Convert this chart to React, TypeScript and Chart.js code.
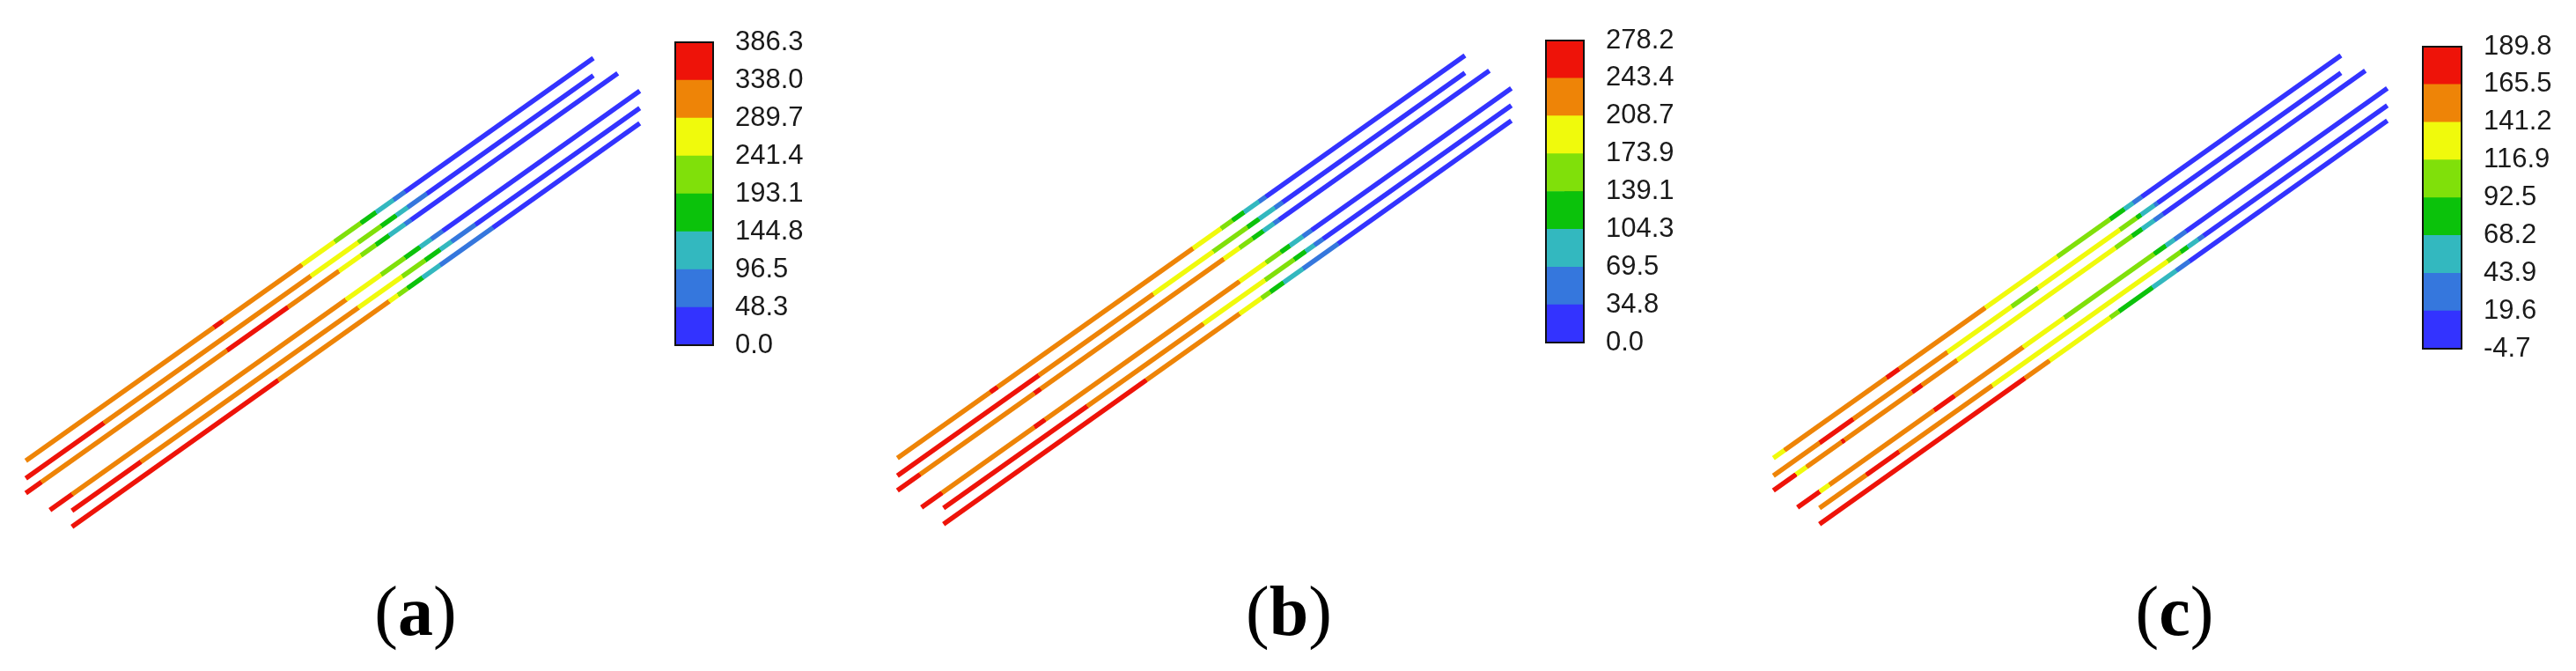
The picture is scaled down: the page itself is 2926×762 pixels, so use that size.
import React, { useEffect, useRef } from "react";
import { Chart, registerables } from "chart.js";

Chart.register(...registerables);

// ---------- DATA ----------
// Contour level colours, low -> high
const levelColors = [
  "#3333FF",
  "#3577DD",
  "#33B8BF",
  "#0BC20B",
  "#80E00A",
  "#F0FA0C",
  "#EE8407",
  "#EE1309",
];

// Colour-bar levels for each panel
const levelValuesA = [0.0, 48.3, 96.5, 144.8, 193.1, 241.4, 289.7, 338.0, 386.3];
const levelLabelsA = ["0.0", "48.3", "96.5", "144.8", "193.1", "241.4", "289.7", "338.0", "386.3"];
const levelValuesB = [0.0, 34.8, 69.5, 104.3, 139.1, 173.9, 208.7, 243.4, 278.2];
const levelLabelsB = ["0.0", "34.8", "69.5", "104.3", "139.1", "173.9", "208.7", "243.4", "278.2"];
const levelValuesC = [-4.7, 19.6, 43.9, 68.2, 92.5, 116.9, 141.2, 165.5, 189.8];
const levelLabelsC = ["-4.7", "19.6", "43.9", "68.2", "92.5", "116.9", "141.2", "165.5", "189.8"];

// Geometry of the six strands (same in every panel): start and end points
const strandStarts: [number, number][] = [
  [29.3, 523.3],
  [29.3, 543.3],
  [29.3, 560.0],
  [56.7, 579.3],
  [81.7, 580.0],
  [81.7, 598.3],
];
const strandEnds: [number, number][] = [
  [674.0, 66.0],
  [674.0, 85.7],
  [701.7, 83.3],
  [726.7, 103.3],
  [726.7, 122.7],
  [726.7, 140.0],
];

// Panel (a): x positions where the contour band changes, and the band index of each piece
const breaksA = [
  [243, 253, 343, 380, 410, 427, 447, 460],
  [118, 353, 407, 433, 450, 463, 485],
  [47, 258, 327, 385, 410, 427, 442, 460, 467],
  [82, 393, 433, 460, 477, 490, 503],
  [160, 407, 457, 483, 500, 513, 540],
  [316, 442, 452, 463, 480, 500, 560],
];
const bandsA = [
  [6, 7, 6, 5, 4, 3, 2, 1, 0],
  [7, 6, 5, 4, 3, 2, 1, 0],
  [7, 6, 7, 6, 5, 4, 3, 2, 1, 0],
  [7, 6, 5, 4, 3, 2, 1, 0],
  [7, 6, 5, 4, 3, 2, 1, 0],
  [7, 6, 5, 4, 3, 2, 1, 0],
];

// Panel (b)
const breaksB = [
  [135, 143, 365, 397, 410, 423, 440, 448],
  [190, 320, 388, 427, 440, 458, 467],
  [55, 185, 192, 400, 418, 433, 445, 457, 463],
  [80, 185, 197, 418, 448, 465, 475, 490, 500],
  [245, 377, 447, 480, 493, 503, 513],
  [312, 418, 443, 453, 468, 490, 530],
];
const bandsB = [
  [6, 7, 6, 5, 4, 3, 2, 1, 0],
  [7, 6, 5, 4, 3, 2, 1, 0],
  [7, 6, 7, 6, 5, 4, 3, 2, 1, 0],
  [7, 6, 7, 6, 5, 4, 3, 2, 1, 0],
  [7, 6, 5, 4, 3, 2, 1, 0],
  [7, 6, 5, 4, 3, 2, 1, 0],
];

// Panel (c)
const breaksC = [
  [42, 158, 172, 270, 352, 412, 428, 438, 448],
  [82, 120, 227, 300, 330, 423, 442, 447, 462, 466],
  [55, 67, 107, 110, 187, 198, 238, 418, 437, 448, 462, 472],
  [82, 93, 212, 235, 313, 360, 462, 475, 485, 498],
  [135, 172, 278, 477, 492, 500, 512, 518],
  [315, 343, 412, 422, 460, 487, 502],
];
const bandsC = [
  [5, 6, 7, 6, 5, 4, 3, 2, 1, 0],
  [6, 7, 6, 5, 4, 5, 4, 3, 2, 1, 0],
  [7, 5, 6, 7, 6, 7, 6, 5, 4, 3, 2, 1, 0],
  [7, 5, 6, 7, 6, 5, 4, 3, 2, 1, 0],
  [6, 7, 6, 5, 4, 3, 2, 1, 0],
  [7, 6, 5, 4, 3, 2, 1, 0],
];

const panelLabels = ["a", "b", "c"];

// ---------- LAYOUT ----------
const FIELD_W = 760;
const FIELD_H = 640;

type PanelSpec = {
  fieldLeft: number;
  fieldTop: number;
  barLeft: number;
  barTop: number;
  barW: number;
  barH: number;
  labelX: number;
  breaks: number[][];
  bands: number[][];
  values: number[];
  labels: string[];
  name: string;
};

const panels: PanelSpec[] = [
  { fieldLeft: 0, fieldTop: 0, barLeft: 767, barTop: 48, barW: 43, barH: 344, labelX: 472, breaks: breaksA, bands: bandsA, values: levelValuesA, labels: levelLabelsA, name: panelLabels[0] },
  { fieldLeft: 990, fieldTop: -3, barLeft: 1756, barTop: 46, barW: 43, barH: 343, labelX: 1464, breaks: breaksB, bands: bandsB, values: levelValuesB, labels: levelLabelsB, name: panelLabels[1] },
  { fieldLeft: 1985, fieldTop: -3, barLeft: 2752, barTop: 53, barW: 44, barH: 343, labelX: 2470, breaks: breaksC, bands: bandsC, values: levelValuesC, labels: levelLabelsC, name: panelLabels[2] },
];

const PAD_L = 4;
const PAD_TB = 80;
const AXIS_W = 120;
const TICK_IN = 22;
const LABEL_GAP = 25;
const STRAND_WIDTH = 5.5;

function Field({ spec }: { spec: PanelSpec }) {
  const ref = useRef<HTMLCanvasElement | null>(null);
  useEffect(() => {
    if (!ref.current) return;
    const datasets = strandStarts.map((s, i) => {
      const e = strandEnds[i];
      return {
        data: [
          { x: s[0], y: s[1] },
          { x: e[0], y: e[1] },
        ],
        showLine: true,
        pointRadius: 0,
        pointHoverRadius: 0,
        borderWidth: STRAND_WIDTH,
        borderCapStyle: "butt" as const,
        borderColor: (ctx: any) => {
          const chart = ctx.chart;
          const xs = chart.scales?.x;
          const ys = chart.scales?.y;
          const bands = spec.bands[i];
          if (!xs || !ys || !chart.chartArea) return levelColors[bands[0]];
          const px0 = xs.getPixelForValue(s[0]);
          const py0 = ys.getPixelForValue(s[1]);
          const px1 = xs.getPixelForValue(e[0]);
          const py1 = ys.getPixelForValue(e[1]);
          const g = chart.ctx.createLinearGradient(px0, py0, px1, py1);
          const br = spec.breaks[i];
          const clamp = (t: number) => Math.min(1, Math.max(0, t));
          let prev = 0;
          for (let k = 0; k < bands.length; k++) {
            const next = k < br.length ? (br[k] - s[0]) / (e[0] - s[0]) : 1;
            const c = levelColors[bands[k]];
            g.addColorStop(clamp(prev), c);
            g.addColorStop(clamp(next), c);
            prev = next;
          }
          return g;
        },
      };
    });
    const chart = new Chart(ref.current, {
      type: "scatter",
      data: { datasets },
      options: {
        animation: false,
        responsive: false,
        events: [],
        layout: { padding: 0 },
        plugins: { legend: { display: false }, tooltip: { enabled: false } },
        scales: {
          x: { type: "linear", display: false, min: 0, max: FIELD_W },
          y: { type: "linear", display: false, min: 0, max: FIELD_H, reverse: true },
        },
      },
    } as any);
    return () => chart.destroy();
  }, [spec]);
  return (
    <canvas
      ref={ref}
      width={FIELD_W}
      height={FIELD_H}
      style={{ position: "absolute", left: spec.fieldLeft, top: spec.fieldTop, width: FIELD_W, height: FIELD_H }}
    />
  );
}

const outlinePlugin = {
  id: "barOutline",
  afterDatasetsDraw(chart: any) {
    const a = chart.chartArea;
    const c = chart.ctx;
    c.save();
    c.strokeStyle = "#111";
    c.lineWidth = 2;
    c.strokeRect(a.left, a.top, a.right - a.left, a.bottom - a.top);
    c.restore();
  },
};

function ColorBar({ spec }: { spec: PanelSpec }) {
  const ref = useRef<HTMLCanvasElement | null>(null);
  const w = PAD_L + spec.barW + AXIS_W;
  const h = PAD_TB * 2 + spec.barH;
  useEffect(() => {
    if (!ref.current) return;
    const vals = spec.values;
    const datasets = levelColors.map((c, i) => ({
      data: [[vals[i], vals[i + 1]]],
      backgroundColor: c,
      borderWidth: 0,
      grouped: false,
      barPercentage: 1,
      categoryPercentage: 1,
    }));
    const chart = new Chart(ref.current, {
      type: "bar",
      data: { labels: [""], datasets },
      options: {
        animation: false,
        responsive: false,
        events: [],
        layout: { padding: { left: PAD_L, right: 0, top: PAD_TB, bottom: PAD_TB } },
        plugins: { legend: { display: false }, tooltip: { enabled: false } },
        scales: {
          x: { display: false },
          y: {
            position: "right",
            min: vals[0],
            max: vals[vals.length - 1],
            afterBuildTicks: (scale: any) => {
              scale.ticks = vals.map((v) => ({ value: v }));
            },
            afterFit: (scale: any) => {
              scale.width = AXIS_W;
            },
            border: { display: false },
            grid: {
              drawOnChartArea: false,
              drawTicks: true,
              tickLength: -TICK_IN,
              lineWidth: 1.5,
              color: (ctx: any) =>
                ctx.index === 0 || ctx.index === vals.length - 1 ? "rgba(0,0,0,0)" : "#111",
            },
            ticks: {
              padding: LABEL_GAP + TICK_IN,
              color: "#1a1a1a",
              font: { family: "Liberation Sans, Arial, sans-serif", size: 31 },
              callback: (_v: any, idx: number) => spec.labels[idx],
            },
          },
        },
      },
      plugins: [outlinePlugin],
    } as any);
    return () => chart.destroy();
  }, [spec]);
  return (
    <canvas
      ref={ref}
      width={w}
      height={h}
      style={{ position: "absolute", left: spec.barLeft - PAD_L, top: spec.barTop - PAD_TB, width: w, height: h }}
    />
  );
}

function PanelLabel({ spec }: { spec: PanelSpec }) {
  return (
    <div
      style={{
        position: "absolute",
        left: spec.labelX - 150,
        top: 654,
        width: 300,
        textAlign: "center",
        fontFamily: "'Liberation Serif', 'Times New Roman', serif",
        fontSize: 80,
        lineHeight: 1,
        color: "#000",
        whiteSpace: "nowrap",
      }}
    >
      <span>(</span>
      <span style={{ fontWeight: 700 }}>{spec.name}</span>
      <span>)</span>
    </div>
  );
}

export default function App() {
  return (
    <div style={{ position: "absolute", left: 0, top: 0, width: 2926, height: 762, background: "#fff", overflow: "hidden" }}>
      {panels.map((p) => (
        <React.Fragment key={p.name}>
          <Field spec={p} />
          <ColorBar spec={p} />
          <PanelLabel spec={p} />
        </React.Fragment>
      ))}
    </div>
  );
}
